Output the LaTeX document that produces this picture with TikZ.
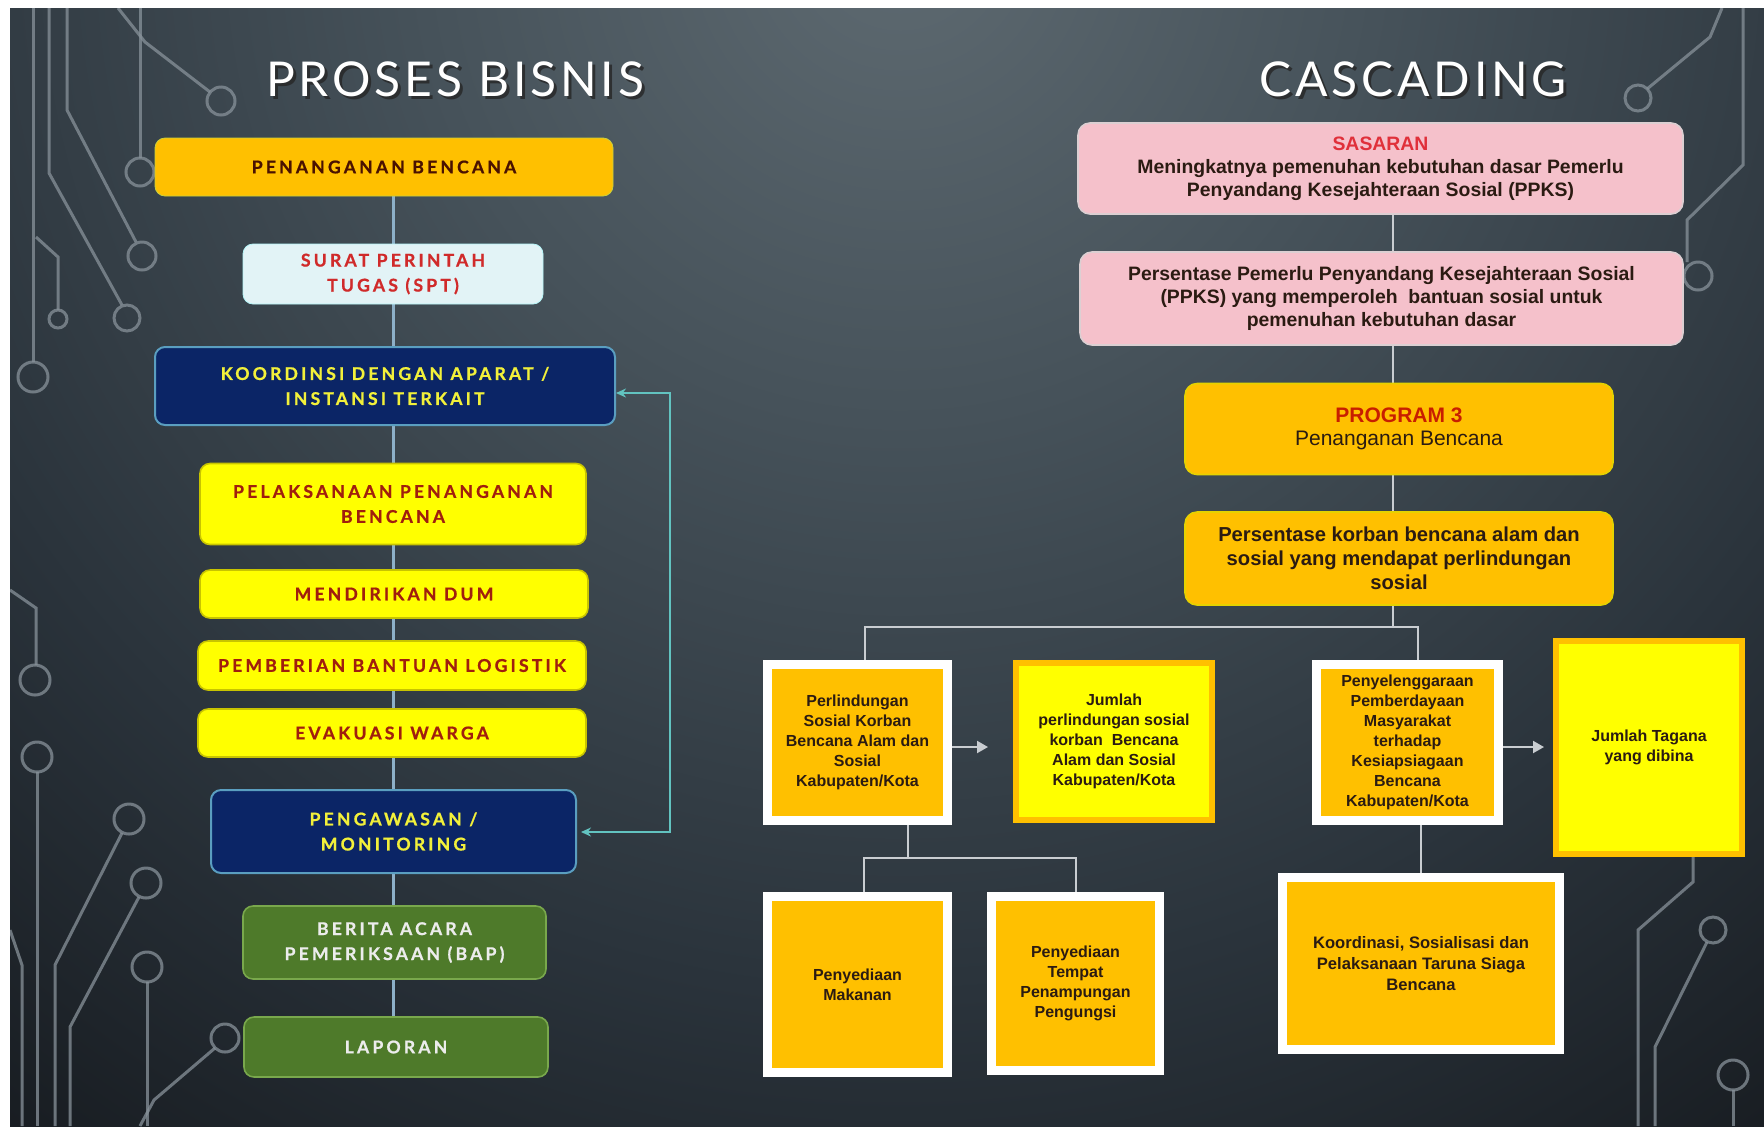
\documentclass[tikz,border=0pt]{standalone}
\usepackage{fontspec}
\setmainfont{Liberation Sans}
\newfontfamily\procfont[LetterSpace=18, FakeBold=0.8]{Lato}
\newfontfamily\titlefont[LetterSpace=8]{Lato}
\usetikzlibrary{arrows.meta}

\definecolor{bgA}{HTML}{5E6A71}
\definecolor{bgB}{HTML}{46525A}
\definecolor{bgC}{HTML}{2A333B}
\definecolor{bgD}{HTML}{121519}
\definecolor{wire}{HTML}{88929A}
\definecolor{orng}{HTML}{FFC000}
\definecolor{yell}{HTML}{FFFF00}
\definecolor{navy}{HTML}{0B2566}
\definecolor{grn}{HTML}{4E7A2A}
\definecolor{pink}{HTML}{F5C1CB}
\definecolor{sptfill}{HTML}{E2F3F6}
\definecolor{flowline}{HTML}{8DB0C8}
\definecolor{fbline}{HTML}{62C3C0}
\definecolor{treeline}{HTML}{C9CDD1}
\definecolor{darkred}{HTML}{A01E0E}
\definecolor{maroon}{HTML}{4A1200}
\definecolor{sptred}{HTML}{D02A2A}
\definecolor{navytext}{HTML}{F2F03A}
\definecolor{lighttext}{HTML}{ECECEC}
\definecolor{ink}{HTML}{2B1B12}
\definecolor{sasred}{HTML}{E0303A}
\definecolor{progred}{HTML}{C81E00}
\definecolor{orngedge}{HTML}{C8D040}
\definecolor{navyedge}{HTML}{5A9EC0}
\definecolor{yelledge}{HTML}{C8C400}
\definecolor{grnedge}{HTML}{79A84C}
\definecolor{pinkedge}{HTML}{DCCFD2}
\definecolor{progedge}{HTML}{E6D200}

\pgfdeclareradialshading{bgglow}{\pgfpoint{0bp}{0bp}}{%
  color(0bp)=(bgA); color(5bp)=(bgB); color(11bp)=(bgC);
  color(17bp)=(bgD); color(50bp)=(bgD)}

\pgfdeclarelayer{bgl}
\pgfdeclarelayer{wires}
\pgfsetlayers{bgl,wires,main}

\tikzset{
  procbox/.style={rounded corners=5pt, align=center, inner sep=0pt,
    font=\procfont\bfseries\fontsize{8.8}{12.5}\selectfont},
  orangeproc/.style={procbox, fill=orng, draw=orngedge, text=maroon},
  sptbox/.style={procbox, fill=sptfill, draw=sptfill!80!cyan, text=sptred},
  navybox/.style={procbox, fill=navy, draw=navyedge, line width=1pt, text=navytext},
  yellowbox/.style={procbox, fill=yell, draw=yelledge, line width=0.8pt, text=darkred},
  greenbox/.style={procbox, fill=grn, draw=grnedge, line width=0.8pt, text=lighttext},
  casbox/.style={rounded corners=6pt, align=center, inner sep=0pt, text=ink,
    font=\bfseries\fontsize{9.7}{11.5}\selectfont},
  pinkbox/.style={casbox, fill=pink, draw=pinkedge, line width=0.8pt},
  progbox/.style={casbox, fill=orng, draw=progedge, line width=0.8pt},
  whitebox/.style={align=center, inner sep=0pt, fill=orng, draw=white,
    line width=4.5pt, text=ink, font=\bfseries\fontsize{8}{10}\selectfont},
  yelsquare/.style={align=center, inner sep=0pt, fill=yell, draw=orng,
    line width=3pt, text=ink, font=\bfseries\fontsize{8}{10}\selectfont},
  flow/.style={draw=flowline, line width=1.5pt},
  feedback/.style={draw=fbline, line width=1.2pt,
    {Stealth[length=5pt,width=4.5pt]}-{Stealth[length=5pt,width=4.5pt]}},
  tree/.style={draw=treeline, line width=1pt},
  treearrow/.style={tree, -{Triangle[length=5.5pt,width=6pt]}},
  circuit/.style={draw=wire, line width=1.5pt, opacity=0.75},
  titletext/.style={font=\titlefont\fontsize{24}{24}\selectfont}
}

\begin{document}
\begin{tikzpicture}[x=0.5pt, y=-0.5pt]
\useasboundingbox (0,0) rectangle (1764,1126);

% ---------- background ----------
\begin{pgfonlayer}{bgl}
  \fill[white] (0,0) rectangle (1764,1126);
  \begin{scope}
    \clip (10,8) rectangle (1764,1126);
    \shade[shading=bgglow] (900,-60) circle (2400);
    % circuit traces, left edge
    \draw[circuit] (33,8) -- (33,362);
    \draw[circuit] (33,377) circle (15);
    \draw[circuit] (49,8) -- (49,173) -- (122,305);
    \draw[circuit] (127,318) circle (13);
    \draw[circuit] (67,8) -- (67,110) -- (136,242);
    \draw[circuit] (142,256) circle (14);
    \draw[circuit] (118,8) -- (145,42) -- (210,92);
    \draw[circuit] (221,101) circle (14);
    \draw[circuit] (140,8) -- (140,158);
    \draw[circuit] (140,172) circle (14);
    \draw[circuit] (36,237) -- (58,257) -- (58,310);
    \draw[circuit] (58,319) circle (9);
    \draw[circuit] (10,590) -- (36,608) -- (36,665);
    \draw[circuit] (35,680) circle (15);
    \draw[circuit] (37,757) circle (15);
    \draw[circuit] (37,772) -- (37,1126);
    \draw[circuit] (129,819) circle (15);
    \draw[circuit] (122,833) -- (55,965) -- (55,1126);
    \draw[circuit] (146,883) circle (15);
    \draw[circuit] (139,897) -- (70,1027) -- (70,1126);
    \draw[circuit] (147,967) circle (15);
    \draw[circuit] (147,982) -- (147,1126);
    \draw[circuit] (225,1038) circle (14);
    \draw[circuit] (215,1048) -- (154,1100) -- (140,1126);
    \draw[circuit] (10,930) -- (22,965) -- (22,1126);
    % circuit traces, right edge
    \draw[circuit] (1722,8) -- (1710,37) -- (1647,89);
    \draw[circuit] (1638,98) circle (13);
    \draw[circuit] (1743,8) -- (1743,165) -- (1687,220) -- (1687,262);
    \draw[circuit] (1698,276) circle (14);
    \draw[circuit] (1693,857) -- (1693,882) -- (1638,930) -- (1638,1126);
    \draw[circuit] (1713,930) circle (13);
    \draw[circuit] (1707,942) -- (1655,1047) -- (1655,1126);
    \draw[circuit] (1733,1075) circle (15);
    \draw[circuit] (1733,1090) -- (1733,1126);
  \end{scope}
\end{pgfonlayer}

% ---------- titles ----------
\node[titletext, text=black!85, opacity=0.8] (t1s) at (458,82) {PROSES BISNIS};
\node[titletext, text=white] (t1) at (455,79) {PROSES BISNIS};
\node[titletext, text=black!85, opacity=0.8] (t2s) at (1416,82) {CASCADING};
\node[titletext, text=white] (t2) at (1413,79) {CASCADING};

% ---------- business process column ----------
\node[orangeproc, minimum width=229pt, minimum height=29pt] (pb) at (384,167) {PENANGANAN BENCANA};
\node[sptbox, minimum width=150pt, minimum height=30pt] (spt) at (393,274) {SURAT PERINTAH\\TUGAS (SPT)};
\node[navybox, minimum width=230pt, minimum height=39pt] (koord) at (385,386) {KOORDINSI DENGAN APARAT /\\INSTANSI TERKAIT};
\node[yellowbox, minimum width=193pt, minimum height=40.5pt] (pelak) at (393,504) {PELAKSANAAN PENANGANAN\\BENCANA};
\node[yellowbox, minimum width=194pt, minimum height=24pt] (dum) at (394,594) {MENDIRIKAN DUM};
\node[yellowbox, minimum width=194pt, minimum height=24.5pt] (logis) at (392,665.5) {PEMBERIAN BANTUAN LOGISTIK};
\node[yellowbox, minimum width=194pt, minimum height=24pt] (evak) at (392,733) {EVAKUASI WARGA};
\node[navybox, minimum width=182.5pt, minimum height=41.5pt] (pengaw) at (393.5,831.5) {PENGAWASAN /\\MONITORING};
\node[greenbox, minimum width=151.5pt, minimum height=36.5pt] (bap) at (394.5,942.5) {BERITA ACARA\\PEMERIKSAAN (BAP)};
\node[greenbox, minimum width=152pt, minimum height=30pt] (lap) at (396,1047) {LAPORAN};

\coordinate (fbtop) at (670,393);
\coordinate (fbbot) at (670,832);

\begin{pgfonlayer}{wires}
  \draw[flow] (spt.center |- pb.south) -- (spt.center |- lap.north);
\end{pgfonlayer}
\draw[feedback] (koord.east |- fbtop) -- (fbtop) -- (fbbot) -- ([xshift=2pt]pengaw.east |- fbbot);

% ---------- cascading tree ----------
\node[pinkbox, minimum width=302.5pt, minimum height=45.5pt] (sas) at (1380.5,168.5)
  {{\color{sasred}SASARAN}\\Meningkatnya pemenuhan kebutuhan dasar Pemerlu\\Penyandang Kesejahteraan Sosial (PPKS)};
\node[pinkbox, minimum width=301.5pt, minimum height=46.5pt] (per1) at (1381.5,298.5)
  {Persentase Pemerlu Penyandang Kesejahteraan Sosial\\(PPKS) yang memperoleh\ \ bantuan sosial untuk\\pemenuhan kebutuhan dasar};
\node[progbox, minimum width=214pt, minimum height=45.5pt, font=\fontsize{10.5}{11.5}\selectfont] (prog) at (1399,429)
  {{\bfseries\color{progred}PROGRAM 3}\\Penanganan Bencana};
\node[progbox, minimum width=214pt, minimum height=46.5pt, font=\bfseries\fontsize{10.1}{12}\selectfont] (per2) at (1399,558.5)
  {Persentase korban bencana alam dan\\sosial yang mendapat perlindungan\\sosial};

\node[whitebox, minimum width=90pt, minimum height=78pt] (perl) at (857.5,742.5)
  {Perlindungan\\Sosial Korban\\Bencana Alam dan\\Sosial\\Kabupaten/Kota};
\node[yelsquare, minimum width=98pt, minimum height=78.5pt] (jml) at (1114,741.5)
  {Jumlah\\perlindungan sosial\\korban\ \ Bencana\\Alam dan Sosial\\Kabupaten/Kota};
\node[whitebox, minimum width=91pt, minimum height=78pt] (penyel) at (1407.5,742.5)
  {Penyelenggaraan\\Pemberdayaan\\Masyarakat\\terhadap\\Kesiapsiagaan\\Bencana\\Kabupaten/Kota};
\node[yelsquare, minimum width=93pt, minimum height=106.5pt] (tagana) at (1649,747.5)
  {Jumlah Tagana\\yang dibina};
\node[whitebox, minimum width=90pt, minimum height=88pt] (makan) at (857.5,984.5)
  {Penyediaan\\Makanan};
\node[whitebox, minimum width=84pt, minimum height=87pt] (tempat) at (1075.5,983.5)
  {Penyediaan\\Tempat\\Penampungan\\Pengungsi};
\node[whitebox, minimum width=138.5pt, minimum height=86pt, font=\bfseries\fontsize{8.3}{10.5}\selectfont] (koordsi) at (1421,963.5)
  {Koordinasi, Sosialisasi dan\\Pelaksanaan Taruna Siaga\\Bencana};

\coordinate (jn) at (1393,627);
\coordinate (jn2) at (908,858);

\begin{pgfonlayer}{wires}
  \draw[tree] (sas.south -| jn) -- (jn);
  \draw[tree] ([xshift=3.5pt]perl.north) |- (jn) -| ([xshift=5pt]penyel.north);
  \draw[tree] (perl.south -| jn2) -- (jn2);
  \draw[tree] ([xshift=3pt]makan.north) |- (jn2) -| (tempat.north);
  \draw[tree] (koordsi.north) -- (koordsi.north |- penyel.south);
  \draw[treearrow] (perl.east |- 0,747) -- ([xshift=-12.5pt]jml.west |- 0,747);
  \draw[treearrow] (penyel.east |- 0,747) -- ([xshift=-4.5pt]tagana.west |- 0,747);
\end{pgfonlayer}
\end{tikzpicture}
\end{document}
